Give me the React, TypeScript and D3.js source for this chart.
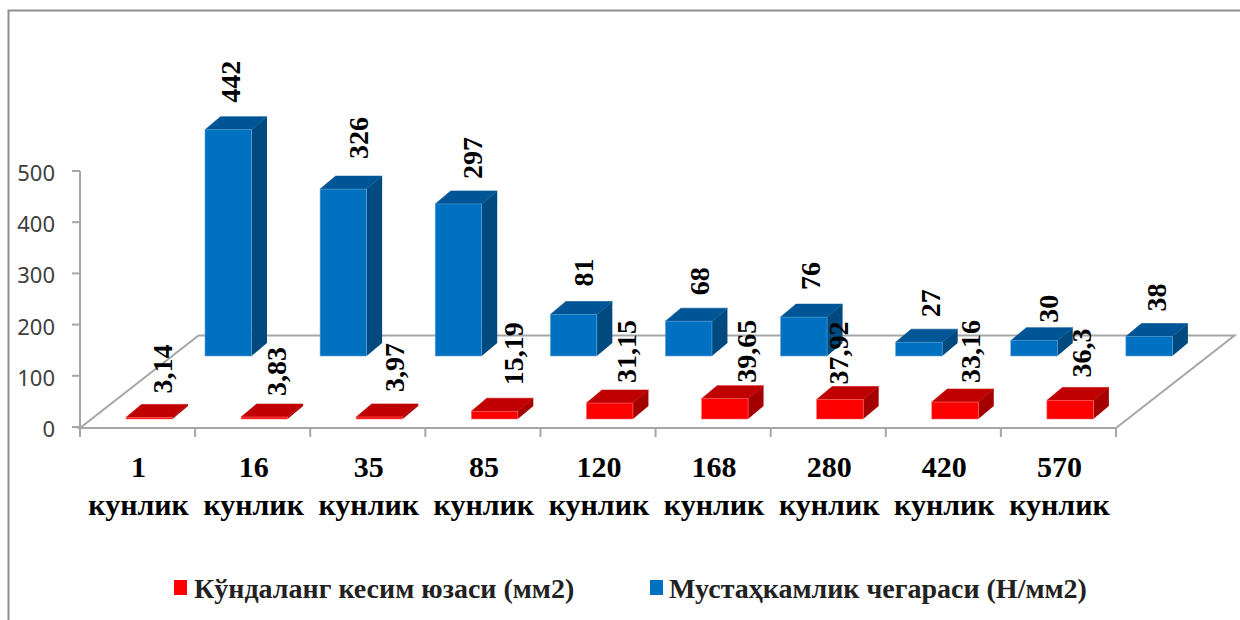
import React from "react";
import * as d3 from "d3";

// Ages of the specimens, in days
const ages = ["1", "16", "35", "85", "120", "168", "280", "420", "570"];
const ageUnit = "кунлик";

// Cross-section area, mm2
const areaLabels = ["3,14", "3,83", "3,97", "15,19", "31,15", "39,65", "37,92", "33,16", "36,3"];
const areaValues = areaLabels.map((s) => parseFloat(s.replace(",", ".")));

// Strength limit, N/mm2
const strengthValues = [442, 326, 297, 81, 68, 76, 27, 30, 38];

const yTicks = [0, 100, 200, 300, 400, 500];

const legendArea = "Кўндаланг кесим юзаси (мм2)";
const legendStrength = "Мустаҳкамлик чегараси (Н/мм2)";

// Manual label placement of the data labels, [dx, dy] from their default anchor
const areaLabelShift = [[5, 3], [4, 6], [7, 2], [11, 1], [9, 7], [14, 11], [-9, 12], [8, 8], [4, 4]];
const strengthLabelShift = [[-6, 0], [7, -3], [6, 2], [2, -1], [3, 1], [-1, 0], [4, 2], [7, 9], [0, 2]];

const W = 1240;
const H = 620;
const BLUE = { front: "#0070C0", top: "#005596", side: "#004A80", edge: "#5FA3D6" };
const RED = { front: "#FF0000", top: "#C00000", side: "#A50000", edge: "#FF7070" };
const GREY = "#A6A6A6";
const SERIF = "'Liberation Serif', 'Times New Roman', serif";

const x = d3.scaleBand<string>().domain(ages).range([80, 1116]);
const y = d3.scaleLinear().domain([0, 500]).range([427, 171]);

const px = (s: number) => y(0) - y(s);

// Depth of one box and the offset of each series row on the floor
const boxDepth = { dx: 15.5, dy: -13 };
const floorDepth = { dx: 118.5, dy: -92.5 };
const areaRow = { dx: 0, dy: -8 };
const strengthRow = { dx: 79, dy: -71 };
const barWidth = 46.5;
const barInset = 46;

function Box({ left, value, row, pal }: { left: number; value: number; row: { dx: number; dy: number }; pal: typeof BLUE }) {
  const x0 = left + barInset + row.dx;
  const x1 = x0 + barWidth;
  const base = y(0) + row.dy;
  const h = px(value);
  const top = base - h;
  const { dx, dy } = boxDepth;
  const poly = (pts: number[][]) => pts.map((p) => p.join(",")).join(" ");
  return (
    <g>
      <polygon points={poly([[x1, base], [x1 + dx, base + dy], [x1 + dx, top + dy], [x1, top]])} fill={pal.side} />
      <polygon points={poly([[x0, top], [x1, top], [x1 + dx, top + dy], [x0 + dx, top + dy]])} fill={pal.top} stroke={pal.top} strokeWidth={0.6} />
      <rect x={x0} y={top} width={barWidth} height={h} fill={pal.front} stroke={pal.edge} strokeWidth={0.6} />
    </g>
  );
}

function DataLabel({ cx, bottom, text }: { cx: number; bottom: number; text: string }) {
  return (
    <text
      transform={`translate(${cx},${bottom}) rotate(-90)`}
      dominantBaseline="central"
      fontFamily={SERIF}
      fontSize={28}
      fontWeight={700}
      fill="#000"
    >
      {text}
    </text>
  );
}

export default function App() {
  const floor = [
    [x.range()[0], y(0) + 1],
    [x.range()[1], y(0) + 1],
    [x.range()[1] + floorDepth.dx, y(0) + 1 + floorDepth.dy],
    [x.range()[0] + floorDepth.dx, y(0) + 1 + floorDepth.dy],
  ];
  const labelCenter = (i: number, row: { dx: number; dy: number }) =>
    (x(ages[i]) as number) + barInset + row.dx + (barWidth + boxDepth.dx) / 2;
  const labelBottom = (v: number, row: { dx: number; dy: number }) =>
    y(0) + row.dy - px(v) + boxDepth.dy - 14;

  return (
    <svg width={W} height={H} viewBox={`0 0 ${W} ${H}`} style={{ position: "absolute", left: 0, top: 0, background: "#fff" }}>
      <path d="M1240,10.5 H8.5 V620" fill="none" stroke="#8E8E8E" strokeWidth={2} />

      {/* Floor of the 3D plot */}
      <polygon points={floor.map((p) => p.join(",")).join(" ")} fill="none" stroke={GREY} strokeWidth={2} />

      {/* Value axis */}
      <line x1={x.range()[0]} x2={x.range()[0]} y1={y(500)} y2={y(0)} stroke={GREY} strokeWidth={2} />
      {yTicks.map((t) => (
        <g key={t}>
          <line x1={72} x2={80} y1={y(t)} y2={y(t)} stroke={GREY} strokeWidth={2} />
          <text x={55} y={y(t) + 1} textAnchor="end" dominantBaseline="central" fontFamily="'Noto Sans', sans-serif" fontSize={22} fill="#404040">
            {t}
          </text>
        </g>
      ))}

      {/* Category ticks and two-line labels */}
      {[...ages.map((a) => x(a) as number), x.range()[1]].map((tx) => (
        <line key={tx} x1={tx} x2={tx} y1={y(0)} y2={y(0) + 10} stroke={GREY} strokeWidth={2} />
      ))}
      {ages.map((a) => {
        const cx = (x(a) as number) + x.bandwidth() / 2 + 1;
        return (
          <text key={a} textAnchor="middle" fontFamily={SERIF} fontSize={30} fontWeight={700} fill="#000">
            <tspan x={cx} y={477}>{a}</tspan>
            <tspan x={cx} y={515}>{ageUnit}</tspan>
          </text>
        );
      })}

      {/* Bars, back row first */}
      {strengthValues.map((v, i) => (
        <Box key={ages[i]} left={x(ages[i]) as number} value={v} row={strengthRow} pal={BLUE} />
      ))}
      {areaValues.map((v, i) => (
        <Box key={ages[i]} left={x(ages[i]) as number} value={v} row={areaRow} pal={RED} />
      ))}

      {/* Data labels */}
      {strengthValues.map((v, i) => (
        <DataLabel
          key={ages[i]}
          cx={labelCenter(i, strengthRow) + strengthLabelShift[i][0]}
          bottom={labelBottom(v, strengthRow) + strengthLabelShift[i][1]}
          text={String(v)}
        />
      ))}
      {areaValues.map((v, i) => (
        <DataLabel
          key={ages[i]}
          cx={labelCenter(i, areaRow) + areaLabelShift[i][0]}
          bottom={labelBottom(v, areaRow) + areaLabelShift[i][1]}
          text={areaLabels[i]}
        />
      ))}

      {/* Legend */}
      <rect x={174} y={580} width={13} height={15} fill={RED.front} />
      <text x={194} y={598} fontFamily={SERIF} fontSize={28} fontWeight={700} fill="#222">{legendArea}</text>
      <rect x={650} y={580} width={13} height={15} fill={BLUE.front} />
      <text x={669} y={598} fontFamily={SERIF} fontSize={28} fontWeight={700} fill="#222">{legendStrength}</text>
    </svg>
  );
}
